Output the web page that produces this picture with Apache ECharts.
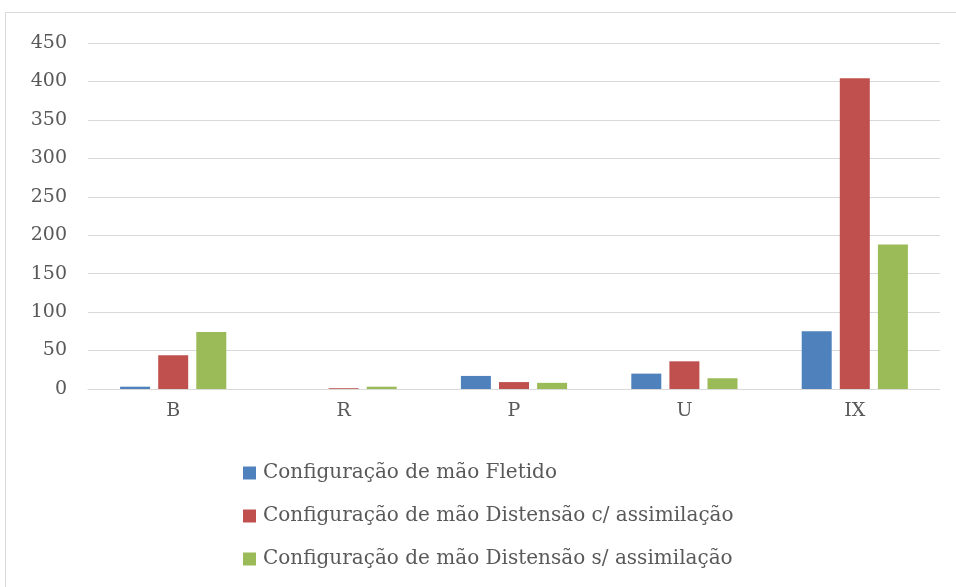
<!DOCTYPE html>
<html>
<head>
<meta charset="utf-8">
<script src="https://cdn.jsdelivr.net/npm/echarts@6/dist/echarts.min.js"></script>
<style>
  html, body { margin: 0; padding: 0; background: #ffffff; }
  #frame { position: absolute; left: 5px; top: 12px; width: 960px; height: 590px;
           border: 1px solid #d9d9d9; box-sizing: border-box; }
  #chart { position: absolute; left: 0; top: 0; width: 956px; height: 587px; }
</style>
</head>
<body>
<div id="frame"></div>
<div id="chart"></div>
<script>
const categories = ['B', 'R', 'P', 'U', 'IX'];
const seriesNames = [
  'Configuração de mão Fletido',
  'Configuração de mão Distensão c/ assimilação',
  'Configuração de mão Distensão s/ assimilação'
];
const fletido = [3, 0, 17, 20, 75];
const distensaoCom = [44, 1, 9, 36, 404];
const distensaoSem = [74, 3, 8, 14, 188];
const colors = ['#4f81bd', '#c0504d', '#9bbb59'];

const fontFamily = '"DejaVu Serif", "Liberation Serif", serif';
const textColor = '#595959';

const chart = echarts.init(document.getElementById('chart'), null, { renderer: 'canvas' });

const values = [fletido, distensaoCom, distensaoSem];

chart.setOption({
  animation: false,
  color: colors,
  textStyle: { fontFamily: fontFamily, color: textColor },
  grid: { left: 88, right: 16, top: 43, height: 346, containLabel: false },
  legend: {
    orient: 'vertical',
    left: 238,
    top: 458,
    itemWidth: 13,
    itemHeight: 13,
    itemGap: 23,
    icon: 'rect',
    textStyle: { fontFamily: fontFamily, fontSize: 20, color: textColor, padding: [0, 0, 0, 2] },
    data: seriesNames
  },
  xAxis: {
    type: 'category',
    data: categories,
    axisLine: { lineStyle: { color: '#d9d9d9', width: 1 } },
    axisTick: { show: false },
    axisLabel: { fontFamily: fontFamily, fontSize: 19, color: textColor, margin: 13 }
  },
  yAxis: {
    type: 'value',
    min: 0,
    max: 450,
    interval: 50,
    axisLine: { show: false },
    axisTick: { show: false },
    axisLabel: { fontFamily: fontFamily, fontSize: 19, color: textColor, margin: 21 },
    splitLine: { lineStyle: { color: '#d9d9d9', width: 1 } }
  },
  series: seriesNames.map((name, i) => ({
    name: name,
    type: 'bar',
    data: values[i],
    barWidth: 30,
    barGap: '27%',
    itemStyle: { color: colors[i] }
  }))
});
</script>
</body>
</html>
